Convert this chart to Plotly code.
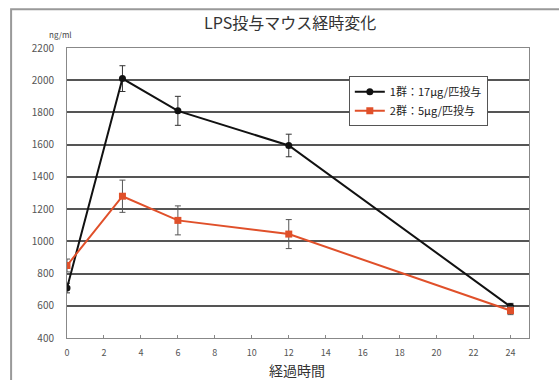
import plotly.graph_objects as go

hours = [0, 3, 6, 12, 24]
group1 = [710, 2010, 1810, 1595, 595]
group1_err = [30, 80, 90, 70, 20]
group2 = [850, 1280, 1130, 1045, 570]
group2_err = [40, 100, 90, 90, 25]
names = ["1群：17μg/匹投与", "2群：5μg/匹投与"]
title = "LPS投与マウス経時変化"
y_unit = "ng/ml"
x_title = "経過時間"

FONT = "Noto Sans CJK JP"
fig = go.Figure()
fig.add_trace(go.Scatter(
    x=hours, y=group1, name=names[0], mode="lines+markers",
    line=dict(color="#111111", width=2),
    marker=dict(symbol="circle", size=7, color="#111111"),
    error_y=dict(type="data", array=group1_err, color="#333333", thickness=1, width=3),
))
fig.add_trace(go.Scatter(
    x=hours, y=group2, name=names[1], mode="lines+markers",
    line=dict(color="#e0502a", width=2),
    marker=dict(symbol="square", size=7, color="#e0502a"),
    error_y=dict(type="data", array=group2_err, color="#555555", thickness=1, width=3),
))

fig.update_layout(
    width=559, height=380,
    margin=dict(l=67, r=30, t=48, b=42),
    paper_bgcolor="white", plot_bgcolor="white",
    font=dict(family=FONT, size=10, color="#333333"),
    showlegend=True,
    legend=dict(x=0.61, y=0.903, xanchor="left", yanchor="top",
                bgcolor="white", bordercolor="#555555", borderwidth=1,
                font=dict(size=11, color="#222222"), tracegroupgap=0,
                itemwidth=30),
    xaxis=dict(range=[0, 25], tickvals=list(range(0, 25, 2)),
               showgrid=False, zeroline=False, showline=True,
               linecolor="#888888", mirror=True, ticks="inside", ticklen=3,
               tickcolor="#888888", ticklabelstandoff=6,
               tickfont=dict(size=9, color="#555555")),
    yaxis=dict(range=[400, 2200], tickvals=list(range(400, 2201, 200)),
               showgrid=True, gridcolor="#555555", gridwidth=1.5, zeroline=False,
               showline=True, linecolor="#888888", mirror=True, ticks="",
               ticklabelstandoff=10,
               tickfont=dict(size=10, color="#555555")),
    shapes=[dict(type="rect", xref="paper", yref="paper",
                 x0=-0.121, x1=1.2, y0=-0.3, y1=1.134,
                 line=dict(color="#999999", width=2))],
    annotations=[
        dict(text=title, xref="paper", yref="paper", x=0.483, y=1.09,
             showarrow=False, yanchor="middle", font=dict(size=16, color="#333333")),
        dict(text=y_unit, xref="paper", yref="paper", x=0.015, y=1.045,
             showarrow=False, xanchor="right", yanchor="middle",
             font=dict(size=8, color="#444444")),
        dict(text=x_title, xref="paper", yref="paper", x=0.497, y=-0.111,
             showarrow=False, yanchor="middle", font=dict(size=14, color="#333333")),
    ],
)
fig.write_html("out.html", config={"displayModeBar": False},
               post_script="document.body.style.margin='0';")
